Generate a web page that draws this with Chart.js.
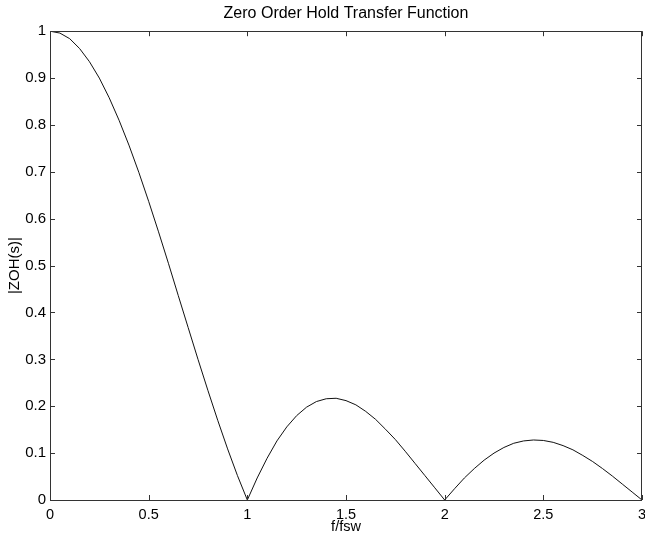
<!DOCTYPE html>
<html>
<head>
<meta charset="utf-8">
<script src="https://cdn.jsdelivr.net/npm/chart.js@4/dist/chart.umd.min.js"></script>
<style>
  html, body { margin: 0; padding: 0; background: #fff; }
  #wrap { width: 645px; height: 540px; }
</style>
</head>
<body>
<div id="wrap"><canvas id="zoh" width="645" height="540"></canvas></div>
<script>
// f/fsw and |ZOH(s)|
var freq = [0, 0.05, 0.1, 0.15, 0.2, 0.25, 0.3, 0.35, 0.4, 0.45, 0.5, 0.55, 0.6, 0.65, 0.7, 0.75, 0.8, 0.85, 0.9, 0.95,
  1, 1.05, 1.1, 1.15, 1.2, 1.25, 1.3, 1.35, 1.4, 1.45, 1.5, 1.55, 1.6, 1.65, 1.7, 1.75, 1.8, 1.85, 1.9, 1.95,
  2, 2.05, 2.1, 2.15, 2.2, 2.25, 2.3, 2.35, 2.4, 2.45, 2.5, 2.55, 2.6, 2.65, 2.7, 2.75, 2.8, 2.85, 2.9, 2.95, 3];
var mag = [1, 0.996, 0.984, 0.963, 0.935, 0.900, 0.858, 0.810, 0.757, 0.699, 0.637, 0.572, 0.505, 0.436, 0.368, 0.300, 0.234, 0.170, 0.109, 0.052,
  0, 0.047, 0.089, 0.126, 0.156, 0.180, 0.198, 0.210, 0.216, 0.217, 0.212, 0.203, 0.189, 0.172, 0.151, 0.129, 0.104, 0.078, 0.052, 0.026,
  0, 0.024, 0.047, 0.067, 0.085, 0.100, 0.112, 0.121, 0.126, 0.128, 0.127, 0.123, 0.116, 0.107, 0.095, 0.082, 0.067, 0.051, 0.034, 0.017, 0];
var xTicks = [0, 0.5, 1, 1.5, 2, 2.5, 3];
var yTicks = [0, 0.1, 0.2, 0.3, 0.4, 0.5, 0.6, 0.7, 0.8, 0.9, 1];

var pts = freq.map(function (f, i) { return { x: f, y: mag[i] }; });

// matlab style box with inward ticks, title centred over the axes
var boxTicks = {
  id: 'boxTicks',
  afterLayout: function (chart) {
    if (chart.titleBlock) {
      chart.titleBlock.left = chart.chartArea.left;
      chart.titleBlock.right = chart.chartArea.right;
    }
  },
  afterDraw: function (chart) {
    var c = chart.ctx, a = chart.chartArea;
    var sx = chart.scales.x, sy = chart.scales.y;
    c.save();
    c.strokeStyle = '#333';
    c.lineWidth = 1;
    c.strokeRect(Math.round(a.left) + 0.5, Math.round(a.top) + 0.5,
      Math.round(a.right - a.left) - 1, Math.round(a.bottom - a.top));
    c.beginPath();
    xTicks.forEach(function (v) {
      var px = Math.round(sx.getPixelForValue(v)) + 0.5;
      c.moveTo(px, a.bottom); c.lineTo(px, a.bottom - 5);
      c.moveTo(px, a.top); c.lineTo(px, a.top + 5);
    });
    yTicks.forEach(function (v) {
      var py = Math.round(sy.getPixelForValue(v)) + 0.5;
      c.moveTo(a.left, py); c.lineTo(a.left + 5, py);
      c.moveTo(a.right, py); c.lineTo(a.right - 5, py);
    });
    c.stroke();
    c.restore();
  }
};

var fam = 'Liberation Sans, Arial, sans-serif';
var plain = function (v) { return String(v); };

new Chart(document.getElementById('zoh'), {
  type: 'line',
  data: {
    datasets: [{
      data: pts,
      borderColor: '#111',
      borderWidth: 1,
      pointRadius: 0,
      tension: 0,
      fill: false
    }]
  },
  plugins: [boxTicks],
  options: {
    responsive: false,
    animation: false,
    events: [],
    layout: { padding: { right: 3 } },
    plugins: {
      legend: { display: false },
      tooltip: { enabled: false },
      title: {
        display: true,
        text: 'Zero Order Hold Transfer Function',
        color: '#000',
        font: { family: fam, size: 16, weight: 'normal' },
        padding: { top: 4, bottom: 8 }
      }
    },
    scales: {
      x: {
        type: 'linear',
        min: 0,
        max: 3,
        afterBuildTicks: function (s) { s.ticks = xTicks.map(function (v) { return { value: v }; }); },
        afterFit: function (s) { s.height = 40; s.paddingLeft = 0; s.paddingRight = 0; },
        grid: { display: false, drawTicks: false },
        border: { display: false },
        ticks: { color: '#000', font: { family: fam, size: 14.5 }, padding: 6, maxRotation: 0, callback: plain },
        title: { display: true, text: 'f/fsw', color: '#000', font: { family: fam, size: 14.5 }, padding: { top: 0, bottom: 4 } }
      },
      y: {
        min: 0,
        max: 1,
        afterBuildTicks: function (s) { s.ticks = yTicks.map(function (v) { return { value: v }; }); },
        afterFit: function (s) { s.width = 50; s.paddingTop = 0; s.paddingBottom = 0; },
        grid: { display: false, drawTicks: false },
        border: { display: false },
        ticks: { color: '#000', font: { family: fam, size: 15 }, padding: 4, callback: plain },
        title: { display: true, text: '|ZOH(s)|', color: '#000', font: { family: fam, size: 15 }, padding: { top: 6, bottom: 0 } }
      }
    }
  }
});
</script>
</body>
</html>
